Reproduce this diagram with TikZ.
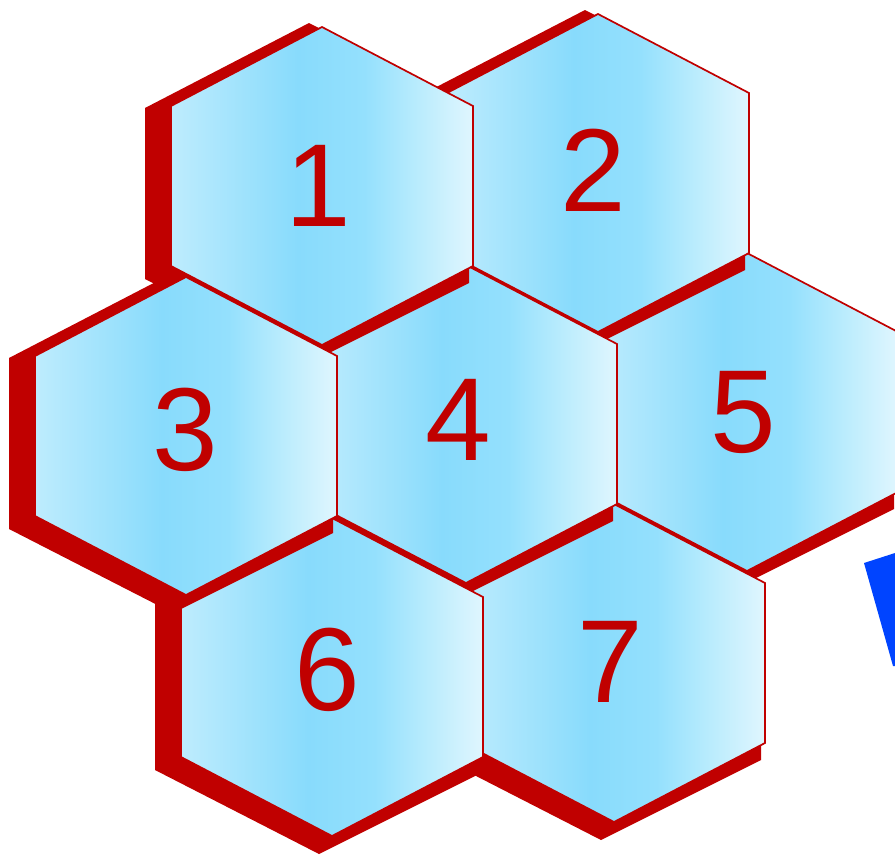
\documentclass[tikz,border=0pt]{standalone}
\usepackage{fontspec}
\setmainfont{Liberation Sans}
\definecolor{cellred}{RGB}{192,0,0}
\definecolor{cellL}{RGB}{190,236,253}
\definecolor{cellM}{RGB}{136,219,252}
\definecolor{cellN}{RGB}{148,224,253}
\definecolor{cellS}{RGB}{186,236,253}
\definecolor{cellR}{RGB}{224,246,254}
\definecolor{markblue}{RGB}{0,68,255}
\pgfdeclarehorizontalshading{cellshade}{100bp}{color(0bp)=(cellL); color(25bp)=(cellL); color(46bp)=(cellM); color(57bp)=(cellN); color(66bp)=(cellS); color(75bp)=(cellR); color(100bp)=(cellR)}
\begin{document}
\begin{tikzpicture}[x=1pt, y=-1pt,
  cellshadow/.style={fill=cellred},
  cellface/.style={shading=cellshade, draw=cellred, line width=1.7pt},
  celllabel/.style={text=cellred, font=\fontsize{118}{120}\selectfont, inner sep=0pt}]
 \useasboundingbox (0,0) rectangle (895,855);
 \clip (0,0) rectangle (895,855);
 % cells, back to front: centre x/y, number, label x/y
 \foreach \cx/\cy/\num/\tx/\ty in {747/412/5/743/412, 598/173/2/593/170, 614/663/7/610/662,
   466/424/4/458/420, 332/677/6/327/670, 322/186/1/318/186, 186/436/3/185/430}
 {
  \fill[cellshadow, shift={(\cx,\cy)}] (-13,-163) -- (149,-80) -- (147,97) -- (-13,177) -- (-177,93) -- (-177,-78) -- cycle;
  \shadedraw[cellface, shift={(\cx,\cy)}] (0,-159) -- (151,-80) -- (151,80) -- (0,159) -- (-151,80) -- (-151,-80) -- cycle;
  \node[celllabel] (cell\num) at (\tx,\ty) {\num};
 }
 \fill[markblue] (864,563) -- (895,553) -- (895,666) -- (893,666) -- cycle;
\end{tikzpicture}
\end{document}
